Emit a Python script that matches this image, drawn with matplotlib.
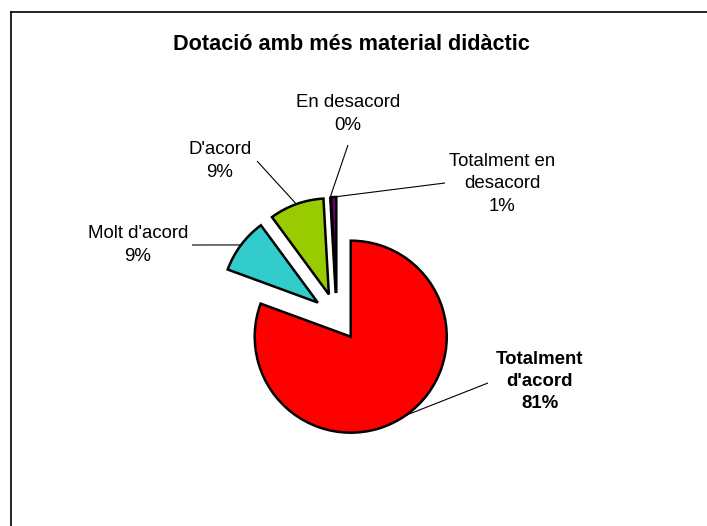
import matplotlib
matplotlib.use('Agg')
import matplotlib.pyplot as plt
from matplotlib.lines import Line2D
import numpy as np

# ---- data ----
categories = ["Totalment d'acord", "Molt d'acord", "D'acord", "En desacord", "Totalment en desacord"]
label_texts = ["Totalment\nd'acord", "Molt d'acord", "D'acord", "En desacord", "Totalment en\ndesacord"]
values = [80.6, 9.3, 9.2, 0.0, 0.9]
colors = ['#FF0000', '#33CCCC', '#99CC00', '#000000', '#660066']
title = "Dotació amb més material didàctic"

# ---- layout (pixels) ----
W, H = 707, 526
CX, CY, R = 337, 317, 96
text_pos = [(539.5, 381.5), (138, 245), (220, 161), (348, 114), (502, 184)]
line_start = [(488, 383), (192, 245), (257, 161), (348, 145), (445, 183)]

plt.rcParams['font.family'] = ['Liberation Sans', 'DejaVu Sans']
fig = plt.figure(figsize=(W / 100, H / 100), dpi=100)
ax = fig.add_axes([0, 0, 1, 1])
wedges, _ = ax.pie(values, colors=colors, startangle=90, counterclock=False,
                   explode=[0.25] * len(values), radius=1,
                   wedgeprops=dict(edgecolor='black', linewidth=1.8, joinstyle='miter'))
ax.set_xlim(-CX / R, (W - CX) / R)
ax.set_ylim(-(H - CY) / R, CY / R)
ax.set_aspect('auto')
ax.axis('off')


def d(px, py):
    return ((px - CX) / R, (CY - py) / R)


for i, w in enumerate(wedges):
    th = np.deg2rad((w.theta1 + w.theta2) / 2)
    cx, cy = w.center
    ax_pt = (cx + w.r * np.cos(th), cy + w.r * np.sin(th))
    sx, sy = d(*line_start[i])
    ax.plot([sx, ax_pt[0]], [sy, ax_pt[1]], color='black', lw=0.8, solid_capstyle='butt')
    tx, ty = d(*text_pos[i])
    txt = f"{label_texts[i]}\n{round(values[i]):.0f}%"
    ax.text(tx, ty, txt, ha='center', va='center', multialignment='center',
            fontsize=13.4, fontweight='bold' if i == 0 else 'normal', color='black',
            linespacing=1.42)

fig.text(351 / W, 1 - 44 / H, title, ha='center', va='center',
         fontsize=15.6, fontweight='bold')

# chart frame (left and top edges visible)
fx, fy = 11 / W, 1 - 12 / H
fig.add_artist(Line2D([fx, fx], [0, fy], transform=fig.transFigure, color='black', lw=1.2))
fig.add_artist(Line2D([fx, 1], [fy, fy], transform=fig.transFigure, color='black', lw=1.2))

fig.savefig('out.png', dpi=100)
